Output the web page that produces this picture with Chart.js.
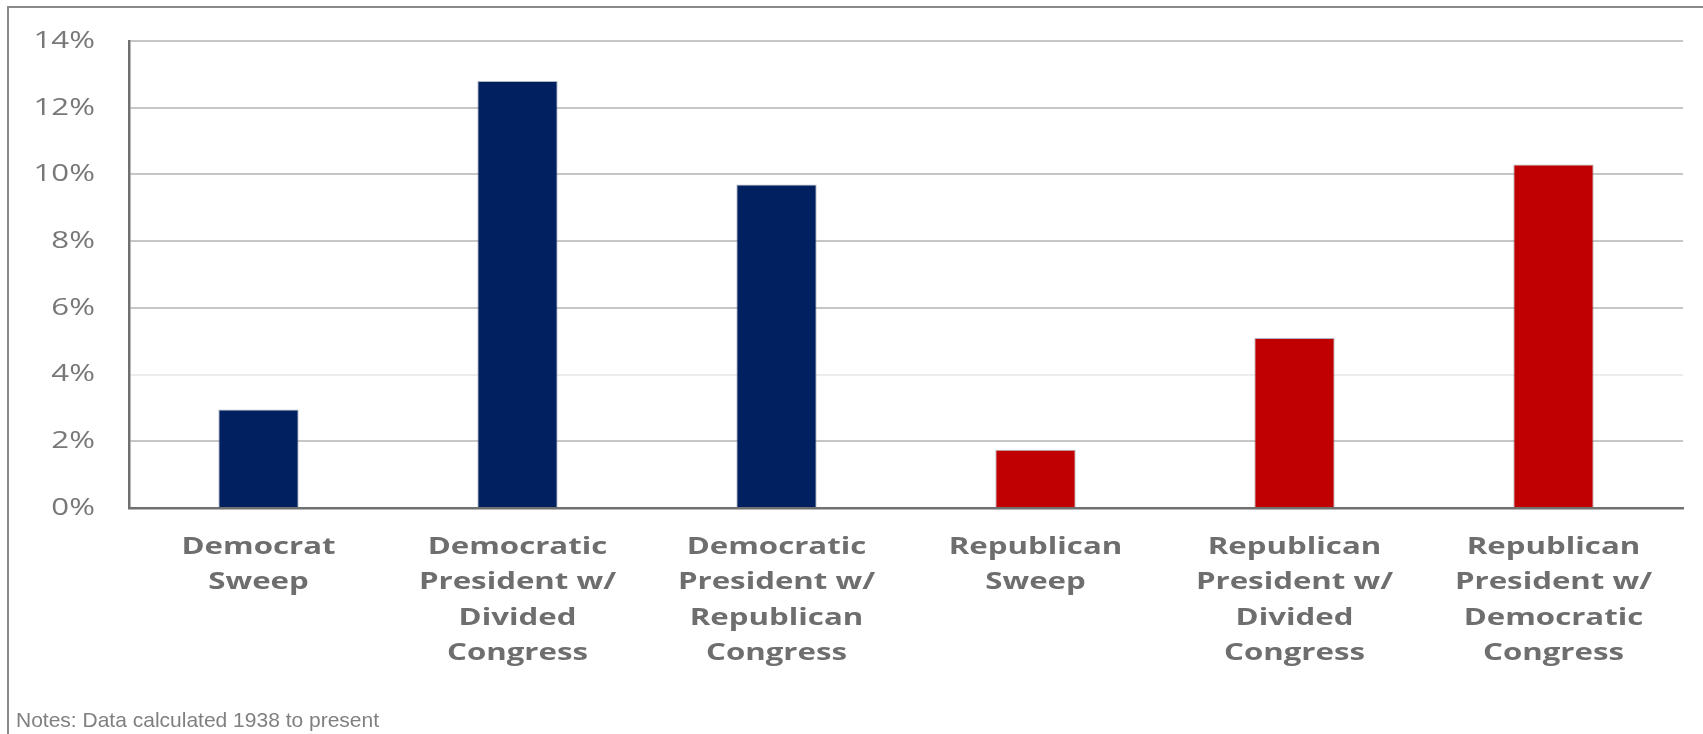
<!DOCTYPE html>
<html>
<head>
<meta charset="utf-8">
<script src="https://cdn.jsdelivr.net/npm/chart.js@4/dist/chart.umd.min.js"></script>
<style>
  html, body { margin: 0; padding: 0; background: #fff; }
  #wrap { width: 1703px; height: 734px; position: relative; }
</style>
</head>
<body>
<div id="wrap"><canvas id="chart"></canvas></div>
<script>
// categories (multi-line labels)
const categories = [
  ['Democrat', 'Sweep'],
  ['Democratic', 'President w/', 'Divided', 'Congress'],
  ['Democratic', 'President w/', 'Republican', 'Congress'],
  ['Republican', 'Sweep'],
  ['Republican', 'President w/', 'Divided', 'Congress'],
  ['Republican', 'President w/', 'Democratic', 'Congress']
];
// values in percent
const values = [2.95, 12.8, 9.7, 1.75, 5.1, 10.3];
const barColors = ['#002060', '#002060', '#002060', '#c00000', '#c00000', '#c00000'];
const yTicks = [0, 2, 4, 6, 8, 10, 12, 14];
const note = 'Notes: Data calculated 1938 to present';

// the original chart image was stretched sideways, so widen the chart text the same way
const STRETCH = 1.3;
const ctx = document.getElementById('chart').getContext('2d');
const rawFill = ctx.fillText.bind(ctx);
const rawMeasure = ctx.measureText.bind(ctx);
ctx.fillText = function(text, x, y) {
  this.save();
  this.translate(x, y);
  this.scale(STRETCH, 1);
  rawFill(text, 0, 0);
  this.restore();
};
ctx.measureText = function(text) {
  return { width: rawMeasure(text).width * STRETCH };
};

// outer frame + footnote
const frame = {
  id: 'frame',
  beforeDraw(chart) {
    const c = chart.ctx;
    c.save();
    c.fillStyle = '#fff';
    c.fillRect(0, 0, chart.width, chart.height);
    c.strokeStyle = '#8a8a8a';
    c.lineWidth = 2;
    c.strokeRect(8, 7, chart.width + 50, chart.height + 50);
    c.restore();
  },
  afterDraw(chart) {
    const c = chart.ctx;
    c.save();
    c.font = '21px "Liberation Sans", Arial, sans-serif';
    c.fillStyle = '#808080';
    c.textAlign = 'left';
    c.textBaseline = 'alphabetic';
    rawFill(note, 16, 727);
    c.restore();
  }
};

new Chart(ctx, {
  type: 'bar',
  data: {
    labels: categories,
    datasets: [{
      data: values,
      backgroundColor: barColors,
      borderColor: 'rgba(120,130,150,0.6)',
      borderWidth: 1,
      barPercentage: 0.31,
      categoryPercentage: 1
    }]
  },
  options: {
    responsive: true,
    maintainAspectRatio: false,
    animation: false,
    layout: { padding: { left: 0, top: 41, right: 20, bottom: 0 } },
    plugins: { legend: { display: false }, tooltip: { enabled: false } },
    scales: {
      x: {
        grid: { display: false, drawTicks: false },
        border: { color: '#707070', width: 2.5 },
        ticks: {
          padding: 21,
          maxRotation: 0,
          autoSkip: false,
          color: '#6e6e6e',
          font: { family: '"Open Sans", sans-serif', size: 24, weight: 'bold', lineHeight: 1.48 }
        },
        afterFit: s => { s.height = 226; s.paddingLeft = 0; s.paddingRight = 0; }
      },
      y: {
        min: 0,
        max: 14,
        afterBuildTicks: s => { s.ticks = yTicks.map(v => ({ value: v })); },
        grid: {
          drawTicks: false,
          lineWidth: 2,
          color: c => (c.tick && c.tick.value === 4) ? '#ececec' : '#c6c6c6'
        },
        border: { color: '#707070', width: 2.5 },
        ticks: {
          padding: 34,
          color: '#787878',
          font: { family: '"Open Sans", sans-serif', size: 24 },
          callback: v => v + '%'
        },
        afterFit: s => { s.width = 129; s.paddingTop = 0; s.paddingBottom = 0; }
      }
    }
  },
  plugins: [frame]
});
</script>
</body>
</html>
